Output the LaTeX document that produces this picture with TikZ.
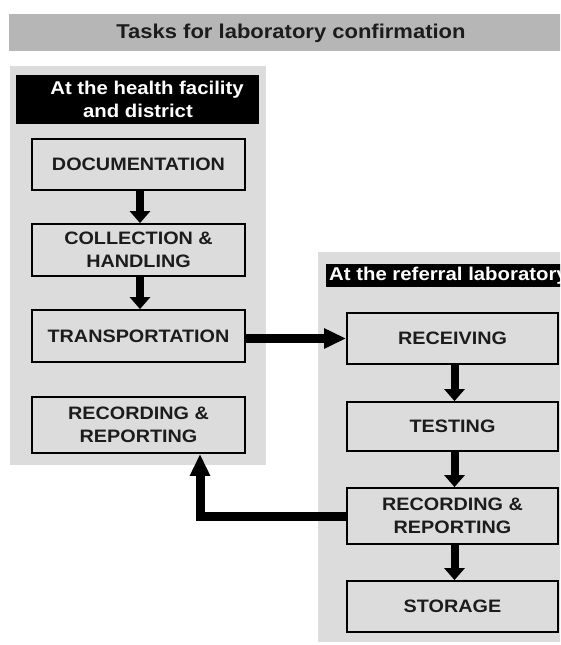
\documentclass[tikz,border=0pt]{standalone}
\usepackage{fontspec}
\setmainfont{Liberation Sans}[FakeStretch=1.1]
\usetikzlibrary{arrows.meta,calc}
\definecolor{barcol}{RGB}{182,182,182}
\definecolor{panelcol}{RGB}{220,220,220}
\definecolor{txtcol}{RGB}{28,28,28}
\begin{document}
\begin{tikzpicture}[x=1pt,y=-1pt,
  panel/.style={fill=panelcol,draw=none},
  stepbox/.style={draw=black,line width=1.8pt,fill=panelcol,minimum height=#1,
    minimum width=213pt,inner sep=0pt,align=center,text=txtcol,
    font=\fontsize{18}{23}\selectfont\bfseries},
  stepbox/.default=52pt,
  hdr/.style={fill=black,text=white,inner sep=0pt,font=\fontsize{18.5}{23}\selectfont\bfseries},
  flow/.style={line width=8pt,-{Triangle[length=12pt,width=20pt]}},
  bigflow/.style={line width=9pt,line join=miter,-{Triangle[length=22pt,width=19pt]}}
]
\useasboundingbox (0,0) rectangle (560,645);
\clip (0,0) rectangle (560,645);
% title bar
\fill[barcol] (9,14) rectangle (575,51);
\node[text=txtcol,font=\fontsize{20}{24}\selectfont\bfseries] (title) at (291,33) {Tasks for laboratory confirmation};
% panels
\fill[panel] (10,66) rectangle (266,465);
\fill[panel] (318,252) rectangle (575,642);
% headers
\fill (16,75) rectangle (259,124);
\node[text=white,font=\fontsize{18.5}{23}\selectfont\bfseries,align=center] (hl) at (138,99.5) {\hspace*{18pt}At the health facility\\and district};
\fill (326,264) rectangle (575,287);
\node[text=white,font=\fontsize{18.5}{23}\selectfont\bfseries,anchor=west,inner sep=0pt] (hr) at (329,276) {At the referral laboratory};
% left boxes
\node[stepbox=51pt] (doc) at (138.5,164.5) {DOCUMENTATION};
\node[stepbox=52pt] (coll) at (138.5,250) {COLLECTION \&\\HANDLING};
\node[stepbox=52pt] (trans) at (138.5,336) {TRANSPORTATION};
\node[stepbox=56pt] (recl) at (138.5,425) {RECORDING \&\\REPORTING};
% right boxes
\node[stepbox=51pt,minimum width=211pt] (recv) at (452.5,338.5) {RECEIVING};
\node[stepbox=49pt,minimum width=211pt] (test) at (452.5,426.5) {TESTING};
\node[stepbox=56pt,minimum width=211pt] (recr) at (452.5,516) {RECORDING \&\\REPORTING};
\node[stepbox=51pt,minimum width=211pt] (stor) at (452.5,606.5) {STORAGE};
% arrows
\draw[flow] ([xshift=1.5pt]doc.south) -- ([xshift=1.5pt]coll.north);
\draw[flow] ([xshift=1.5pt]coll.south) -- ([xshift=1.5pt]trans.north);
\draw[flow] ([xshift=2pt]recv.south) -- ([xshift=2pt]test.north);
\draw[flow] ([xshift=2pt]test.south) -- ([xshift=2pt]recr.north);
\draw[flow] ([xshift=2pt]recr.south) -- ([xshift=2pt]stor.north);
\draw[bigflow] (trans.east |- recv.west) -- (recv.west);
\coordinate (retx) at (200,0);
\draw[bigflow] (recr.west) -| (recl.south -| retx);
\end{tikzpicture}
\end{document}
